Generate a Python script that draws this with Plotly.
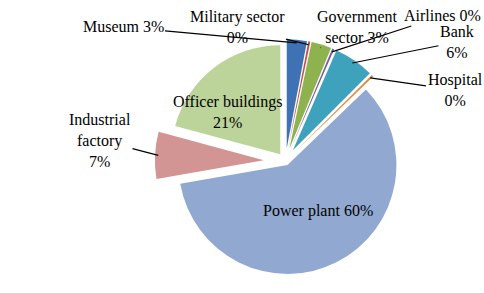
import math
import plotly.graph_objects as go

# ---- data ----
categories = ["Museum", "Military sector", "Government sector", "Airlines", "Bank",
              "Hospital", "Power plant", "Industrial factory", "Officer buildings"]
values = [3, 0.3, 3, 0.3, 6, 0.3, 60, 7, 21]   # 0% slices shown as thin slivers
pct_labels = ["3%", "0%", "3%", "0%", "6%", "0%", "60%", "7%", "21%"]
label_text = ["Museum 3%", "Military sector<br>0%", "Government<br>sector 3%", "Airlines 0%",
              "Bank<br>6%", "Hospital<br>0%", "Power plant 60%", "Industrial<br>factory<br>7%",
              "Officer buildings<br>21%"]

# ---- style ----
colors = ["#3F72B5", "#C0504D", "#8DB24E", "#7A5C9E", "#3FA2BC",
          "#E08A3C", "#91A9D1", "#D39593", "#BCD39A"]
pulls = [0.12, 0.12, 0.12, 0.12, 0.12, 0.12, 0.04, 0.2, 0.08]

W, H = 484, 293
dom_x = [0.32, 0.86]
dom_y = [0.0, 0.9]
FONT = "Liberation Serif, Times New Roman, serif"

# label block centres (pixels) and whether an arrow is drawn
label_pos = [(123, 27), (237, 27), (357, 27), (442, 16), (457, 42),
             (455, 90), (318, 222), (100, 140), (227, 112)]
use_arrow = [True, True, True, True, True, True, False, True, False]

fig = go.Figure(go.Pie(
    labels=categories, values=values, text=pct_labels,
    sort=False, direction="clockwise", rotation=0,
    pull=pulls, marker=dict(colors=colors, line=dict(width=0)),
    textinfo="none", hovertemplate="%{label}: %{text}<extra></extra>",
    domain=dict(x=dom_x, y=dom_y), showlegend=False,
))

# pie geometry (same as plotly's own layout of the pie) for leader-line tips
box_w = W * (dom_x[1] - dom_x[0])
box_h = H * (dom_y[1] - dom_y[0])
r = min(box_w, box_h) / (2 + 2 * max(pulls))
cx = W * (dom_x[0] + dom_x[1]) / 2
cy = H * (1 - dom_y[0]) - box_h / 2
total = sum(values)

annotations = []
cum = 0.0
for i, v in enumerate(values):
    mid = 2 * math.pi * (cum + v / 2) / total
    cum += v
    dx, dy = math.sin(mid), -math.cos(mid)
    tx, ty = label_pos[i]
    if use_arrow[i]:
        dist = r * pulls[i] + r * 0.97
        px, py = cx + dx * dist, cy + dy * dist
        annotations.append(dict(
            x=px / W, y=1 - py / H, xref="paper", yref="paper",
            ax=tx - px, ay=ty - py, axref="pixel", ayref="pixel",
            text=label_text[i], showarrow=True, arrowhead=0, arrowwidth=1.2,
            arrowcolor="black", standoff=0,
            font=dict(family=FONT, size=16, color="black"),
        ))
    else:
        annotations.append(dict(
            x=tx / W, y=1 - ty / H, xref="paper", yref="paper",
            text=label_text[i], showarrow=False,
            font=dict(family=FONT, size=16, color="black"),
        ))

fig.update_layout(
    width=W, height=H, margin=dict(l=0, r=0, t=0, b=0),
    paper_bgcolor="white", plot_bgcolor="white",
    annotations=annotations,
)
fig.write_html("out.html", config={"displayModeBar": False},
               post_script="document.body.style.margin='0';")
